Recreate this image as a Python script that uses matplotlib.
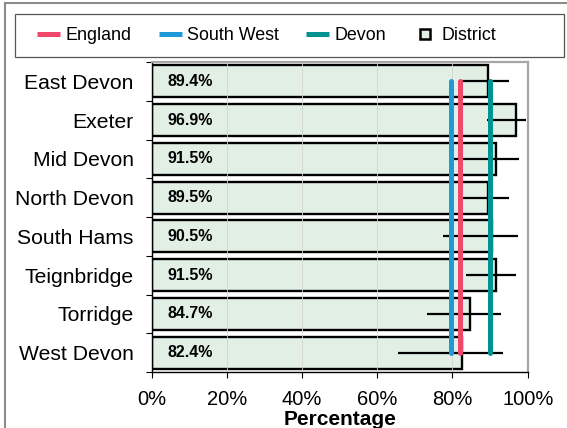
import numpy as np
import matplotlib
matplotlib.use('Agg')
import matplotlib.pyplot as plt
from matplotlib.lines import Line2D
from matplotlib.patches import Rectangle

plt.rcParams['font.family'] = ['Liberation Sans', 'DejaVu Sans']

# Dados
distritos = ['East Devon', 'Exeter', 'Mid Devon', 'North Devon',
             'South Hams', 'Teignbridge', 'Torridge', 'West Devon']
valores = [89.4, 96.9, 91.5, 89.5, 90.5, 91.5, 84.7, 82.4]
ic_inferior = [82.6, 89.1, 80.0, 82.6, 77.4, 83.5, 73.1, 65.4]
ic_superior = [94.9, 99.6, 97.7, 94.9, 97.5, 96.8, 93.0, 93.4]

england = 82.0
south_west = 79.5
devon = 89.9

cor_england = '#f0476a'
cor_sw = '#1e9ad6'
cor_devon = '#009490'
cor_barra = '#e2efe5'

fig = plt.figure(figsize=(5.67, 4.28), dpi=100)
ax = fig.add_axes([151.7 / 567, 1 - 372 / 428, 376 / 567, 310 / 428])

y = np.arange(len(distritos))
ax.barh(y, valores, height=0.82, color=cor_barra, edgecolor='black',
        linewidth=1.7, zorder=2)

# linhas de grade suaves
for gx in [20, 40, 60, 80]:
    ax.axvline(gx, color='#d4d4d4', linewidth=0.6, zorder=2.2)

# intervalos de confiança
ax.hlines(y, ic_inferior, ic_superior, color='black', linewidth=1.6, zorder=3)

# linhas de referência
for val, cor in [(south_west, cor_sw), (england, cor_england), (devon, cor_devon)]:
    ax.plot([val, val], [y[0], y[-1]], color=cor, linewidth=3.6,
            solid_capstyle='round', zorder=4)

for yi, v in zip(y, valores):
    ax.text(4.2, yi, f'{v:.1f}%', ha='left', va='center', fontsize=11.5,
            fontweight='bold', zorder=5)

ax.set_xlim(0, 100)
ax.set_ylim(len(distritos) - 0.5, -0.5)
ax.set_xticks(np.arange(0, 101, 20))
ax.set_xticklabels([f'{t}%' for t in range(0, 101, 20)], fontsize=14.5)
ax.set_yticks(y)
ax.set_yticklabels(distritos, fontsize=15.2)
ax.set_yticks(np.arange(-0.5, len(distritos), 1), minor=True)
ax.tick_params(axis='y', which='major', length=0, pad=13)
ax.tick_params(axis='y', which='minor', length=4, width=0.8, direction='out')
ax.tick_params(axis='x', length=4, width=0.8, direction='out', pad=9)
ax.set_xlabel('Percentage', fontsize=15, fontweight='bold', labelpad=0.5)

for s in ['top', 'right']:
    ax.spines[s].set_color('#a6a6a6')
    ax.spines[s].set_linewidth(1.6)
ax.spines['left'].set_linewidth(1.0)
ax.spines['bottom'].set_linewidth(1.0)

# legenda
handles = [
    Line2D([0], [0], color=cor_england, linewidth=3.6, solid_capstyle='butt'),
    Line2D([0], [0], color=cor_sw, linewidth=3.6, solid_capstyle='butt'),
    Line2D([0], [0], color=cor_devon, linewidth=3.6, solid_capstyle='butt'),
    Line2D([0], [0], marker='s', linestyle='none', markersize=7,
           markerfacecolor=cor_barra, markeredgecolor='black', markeredgewidth=1.8),
]
fig.add_artist(Rectangle((15 / 567, 1 - 57 / 428), 549 / 567, 43 / 428,
                         transform=fig.transFigure, facecolor='white',
                         edgecolor='#555555', linewidth=0.9, zorder=0))
fig.legend(handles, ['England', 'South West', 'Devon', 'District'],
           loc='center left', ncol=4, bbox_to_anchor=(37 / 567, 1 - 35.5 / 428),
           fontsize=12.9, handlelength=1.3, handletextpad=0.3,
           columnspacing=1.5, frameon=False, borderaxespad=0, borderpad=0)

# borda da figura
fig.add_artist(Line2D([5 / 567, 5 / 567], [0, 1 - 3 / 428], color='#8c8c8c',
                      linewidth=1.5, transform=fig.transFigure))
fig.add_artist(Line2D([5 / 567, 1], [1 - 3 / 428, 1 - 3 / 428], color='#8c8c8c',
                      linewidth=1.5, transform=fig.transFigure))

fig.savefig('out.png', dpi=100)
